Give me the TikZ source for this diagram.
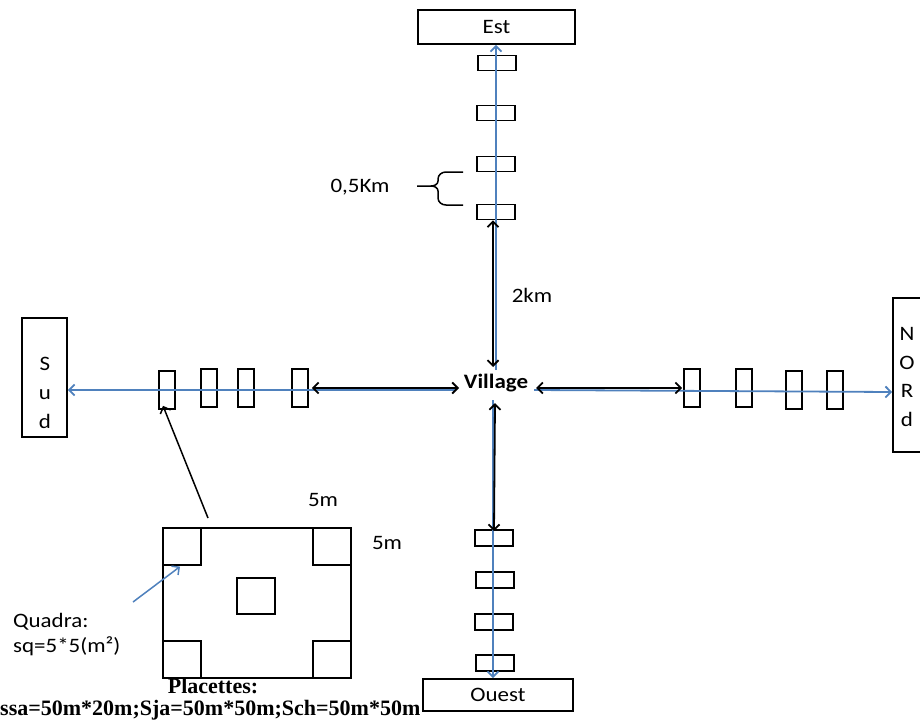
\documentclass[tikz,border=0pt]{standalone}
\usepackage{fontspec}
\setmainfont[FakeStretch=1.12]{Carlito}
\newfontfamily\tnr{Liberation Serif}
\usetikzlibrary{arrows.meta}
\definecolor{lblue}{RGB}{79,129,189}
\begin{document}
\begin{tikzpicture}[x=1pt,y=-1pt,
  hb/.style={draw,line width=1.7pt,minimum width=38pt,minimum height=15pt,inner sep=0pt},
  vb/.style={draw,line width=1.7pt,minimum width=16pt,minimum height=38pt,inner sep=0pt},
  bigbox/.style={draw,line width=1.6pt,inner sep=0pt},
  lab/.style={font=\fontsize{20.5}{24}\selectfont,inner sep=0pt},
  serif/.style={font=\tnr\bfseries\fontsize{22}{26}\selectfont,inner sep=0pt},
  barr/.style={line width=1.8pt,{Straight Barb[length=5.5pt,width=11pt]}-{Straight Barb[length=5.5pt,width=11pt]}},
  sarr/.style={line width=1.5pt,-{Straight Barb[length=5.5pt,width=11pt]}},
  bl/.style={lblue,line width=1.8pt,-{Straight Barb[length=5.5pt,width=11pt]}}
]
\clip (0,0) rectangle (920,720);
\fill[white] (0,0) rectangle (920,720);
% cardinal boxes
\node[bigbox,minimum width=157pt,minimum height=34pt,lab] (est) at (496.5,27) {Est};
\node[bigbox,minimum width=150pt,minimum height=32pt,lab] (ouest) at (498,695) {Ouest};
\node[bigbox,minimum width=45pt,minimum height=119pt] (sud) at (44.5,377.5) {};
\node[lab,align=center,font=\fontsize{20.5}{29}\selectfont] (sudt) at (45,393) {S\\u\\d};
\node[bigbox,minimum width=45pt,minimum height=154pt] (nord) at (915.5,375) {};
\node[lab,align=center,font=\fontsize{20.5}{28.7}\selectfont] (nordt) at (907,377) {N\\O\\R\\d};
% village
\node[lab,font=\bfseries\fontsize{20.5}{24}\selectfont] (village) at (496,383) {Village};
% north plots
\node[hb] (n1) at (497,63) {};
\node[hb] (n2) at (496,113) {};
\node[hb] (n3) at (496,164) {};
\node[hb] (n4) at (496,212) {};
% south plots
\node[hb,minimum height=16pt] (s1) at (494,538) {};
\node[hb,minimum height=16pt] (s2) at (495,580) {};
\node[hb,minimum height=16pt] (s3) at (494,622) {};
\node[hb,minimum height=16pt] (s4) at (495,663) {};
% west plots
\node[vb] (w1) at (167,390) {};
\node[vb] (w2) at (209,388) {};
\node[vb] (w3) at (246,388) {};
\node[vb] (w4) at (300,388) {};
% east plots
\node[vb] (e1) at (692,388) {};
\node[vb] (e2) at (744,388) {};
\node[vb] (e3) at (794,390) {};
\node[vb] (e4) at (835,390) {};
% blue lines
\coordinate (vn) at (496,370);
\coordinate (vs) at (493,400);
\coordinate (vw) at (456,390);
\coordinate (ve) at (534,390);
\draw[bl] (vn) -- (est.south -| vn);
\draw[bl] (vs) -- (ouest.north -| vs);
\draw[bl] (vw) -- (sud.east |- vw);
\draw[bl] (ve) -- ([yshift=-2pt]nord.west |- ve);
% black double arrows
\draw[barr] ([xshift=-3pt]n4.south) -- (493,367);
\draw[barr] (495,403) -- ([yshift=-2pt]s1.north);
\draw[barr] ([xshift=3pt]w4.east) -- (459,388);
\draw[barr] (536,388) -- ([xshift=-1pt]e1.west);
% labels
\node[lab] (km2) at (532,295) {2km};
\node[lab] (km05) at (360,187) {0,5Km};
\coordinate (brT) at (463,172);
\coordinate (brB) at (463,205);
\coordinate (brS) at (417,186);
\draw[line width=1.5pt] (brT) -- (446,172) to[out=180,in=90] (438,179) -- (438,181) to[out=-90,in=0] (431,186) -- (brS);
\draw[line width=1.5pt] (brB) -- (446,205) to[out=180,in=-90] (438,198) -- (438,191) to[out=90,in=0] (431,186);
% placette
\node[bigbox,minimum width=188pt,minimum height=150pt,anchor=north west] (plot) at (162,527) {};
\node[bigbox,minimum width=38pt,minimum height=37pt,anchor=north west] (q1) at (plot.north west) {};
\node[bigbox,minimum width=38pt,minimum height=37pt,anchor=north east] (q2) at (plot.north east) {};
\node[bigbox,minimum width=38pt,minimum height=37pt,anchor=south west] (q3) at (plot.south west) {};
\node[bigbox,minimum width=38pt,minimum height=37pt,anchor=south east] (q4) at (plot.south east) {};
\node[bigbox,minimum width=38pt,minimum height=36pt] (q5) at (256,596) {};
\coordinate (pt) at (208,518);
\draw[sarr] (pt) -- ([xshift=-4pt,yshift=4pt]w1.south);
\node[lab] (m5a) at (323,500) {5m};
\node[lab] (m5b) at (387,543) {5m};
\node[lab,anchor=west] (quadra) at (13,622) {Quadra:};
\node[lab,anchor=west] (sq) at (13,646) {sq=5*5(m²)};
\coordinate (qa) at (133,602);
\draw[lblue,line width=1.5pt,-{Straight Barb[length=5.5pt,width=11pt]}] (qa) -- ([xshift=18pt,yshift=-1pt]q1.south west);
\node[serif] (plac) at (213,686) {Placettes:};
\node[serif,anchor=west] (surf) at (0,710) {ssa=50m*20m;Sja=50m*50m;Sch=50m*50m};
\end{tikzpicture}
\end{document}
